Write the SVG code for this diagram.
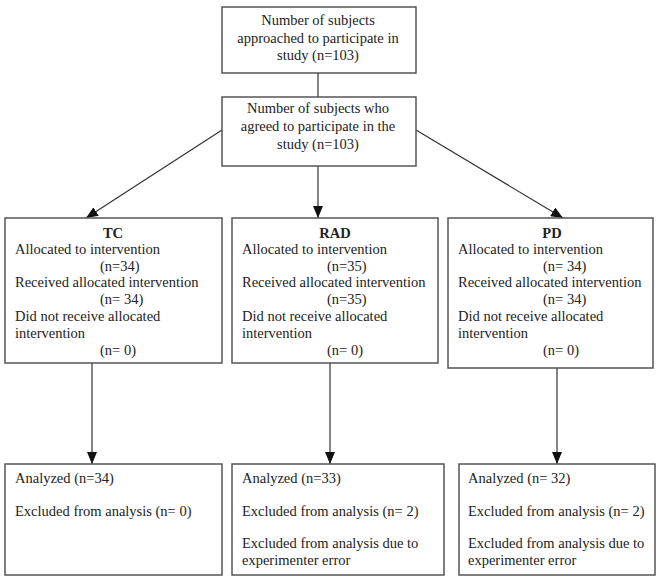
<svg xmlns="http://www.w3.org/2000/svg" width="660" height="583" viewBox="0 0 660 583">
<defs>
<marker id="arr" markerUnits="userSpaceOnUse" markerWidth="12" markerHeight="10" refX="12" refY="5" orient="auto">
<path d="M0,0 L12,5 L0,10 z" fill="#111"/>
</marker>
<style>
.box{fill:#fff;stroke:#555;stroke-width:1.5}
.t{font-family:"Liberation Serif","Times New Roman",serif;font-size:14.5px;fill:#222}
.c{text-anchor:middle}
.b{font-weight:bold}
.ln{stroke:#333;stroke-width:1.2;fill:none}
</style>
</defs>
<rect width="660" height="583" fill="#fff"/>
<g id="connectors">
<line class="ln" x1="318" y1="73" x2="318" y2="97"/>
<line class="ln" x1="222" y1="130" x2="86" y2="218" marker-end="url(#arr)"/>
<line class="ln" x1="318" y1="166" x2="318" y2="218" marker-end="url(#arr)"/>
<line class="ln" x1="416" y1="130" x2="563" y2="218" marker-end="url(#arr)"/>
<line class="ln" x1="92" y1="363" x2="92" y2="464" marker-end="url(#arr)"/>
<line class="ln" x1="330" y1="363" x2="330" y2="464" marker-end="url(#arr)"/>
<line class="ln" x1="557" y1="368" x2="557" y2="464" marker-end="url(#arr)"/>
</g>
<g id="approached">
<rect class="box" x="222" y="7" width="194" height="66"/>
<text class="t c" x="318" y="25">Number of subjects</text>
<text class="t c" x="318" y="43">approached to participate in</text>
<text class="t c" x="318" y="60">study (n=103)</text>
</g>
<g id="agreed">
<rect class="box" x="222" y="97" width="194" height="69"/>
<text class="t c" x="318" y="113">Number of subjects who</text>
<text class="t c" x="318" y="131">agreed to participate in the</text>
<text class="t c" x="318" y="149">study (n=103)</text>
</g>
<g id="tc">
<rect class="box" x="5" y="218" width="217" height="145"/>
<text class="t c b" x="113" y="238">TC</text>
<text class="t" x="15" y="254">Allocated to intervention</text>
<text class="t" x="100" y="271">(n=34)</text>
<text class="t" x="15" y="287">Received allocated intervention</text>
<text class="t" x="100" y="304">(n= 34)</text>
<text class="t" x="15" y="321">Did not receive allocated</text>
<text class="t" x="15" y="338">intervention</text>
<text class="t" x="100" y="355">(n= 0)</text>
</g>
<g id="rad">
<rect class="box" x="232" y="218" width="206" height="145"/>
<text class="t c b" x="335" y="238">RAD</text>
<text class="t" x="242" y="254">Allocated to intervention</text>
<text class="t" x="327" y="271">(n=35)</text>
<text class="t" x="242" y="287">Received allocated intervention</text>
<text class="t" x="327" y="304">(n=35)</text>
<text class="t" x="242" y="321">Did not receive allocated</text>
<text class="t" x="242" y="338">intervention</text>
<text class="t" x="327" y="355">(n= 0)</text>
</g>
<g id="pd">
<rect class="box" x="448" y="218" width="205" height="150"/>
<text class="t c b" x="552" y="238">PD</text>
<text class="t" x="458" y="254">Allocated to intervention</text>
<text class="t" x="543" y="271">(n= 34)</text>
<text class="t" x="458" y="287">Received allocated intervention</text>
<text class="t" x="543" y="304">(n= 34)</text>
<text class="t" x="458" y="321">Did not receive allocated</text>
<text class="t" x="458" y="338">intervention</text>
<text class="t" x="543" y="355">(n= 0)</text>
</g>
<g id="tc-analysis">
<rect class="box" x="5" y="464" width="217" height="111"/>
<text class="t" x="15" y="483">Analyzed (n=34)</text>
<text class="t" x="15" y="516">Excluded from analysis (n= 0)</text>
</g>
<g id="rad-analysis">
<rect class="box" x="232" y="464" width="212" height="111"/>
<text class="t" x="242" y="483">Analyzed (n=33)</text>
<text class="t" x="242" y="516">Excluded from analysis (n= 2)</text>
<text class="t" x="242" y="548">Excluded from analysis due to</text>
<text class="t" x="242" y="565">experimenter error</text>
</g>
<g id="pd-analysis">
<rect class="box" x="459" y="464" width="196" height="111"/>
<text class="t" x="468" y="483">Analyzed (n= 32)</text>
<text class="t" x="468" y="516">Excluded from analysis (n= 2)</text>
<text class="t" x="468" y="548">Excluded from analysis due to</text>
<text class="t" x="468" y="565">experimenter error</text>
</g>
</svg>
